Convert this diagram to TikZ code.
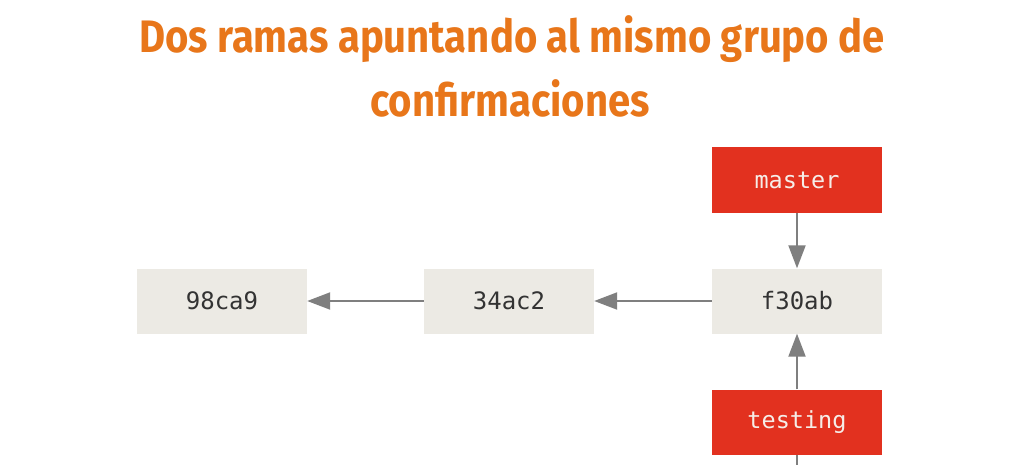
\documentclass[tikz,border=0pt]{standalone}
\usepackage{fontspec}
\setmonofont{DejaVu Sans Mono}
\newfontfamily\titlefont[FakeStretch=0.88]{Fira Sans Bold}
\usetikzlibrary{arrows.meta}
\definecolor{titleorange}{HTML}{E8761A}
\definecolor{commitfill}{HTML}{ECEAE4}
\definecolor{branchred}{HTML}{E2311F}
\definecolor{arrowgray}{HTML}{7F7F7F}
\definecolor{committext}{HTML}{333333}
\definecolor{branchtext}{HTML}{F6EDE8}
\tikzset{
  commitbox/.style={rectangle, fill=commitfill, minimum width=170pt, minimum height=65pt, inner sep=0pt,
    font=\ttfamily\fontsize{24}{24}\selectfont, text=committext},
  branchbox/.style={rectangle, fill=branchred, minimum width=170pt, minimum height=65pt, inner sep=0pt,
    font=\ttfamily\fontsize{23.5}{23.5}\selectfont, text=branchtext},
  link/.style={draw=arrowgray, line width=2pt, -{Triangle[length=23pt,width=17pt]}},
  titletext/.style={font=\titlefont\fontsize{45.5}{64}\selectfont, text=titleorange, align=center}
}
\begin{document}
\begin{tikzpicture}[x=1pt,y=-1pt]
\useasboundingbox[fill=white] (0,0) rectangle (1016,465);
\node[titletext, anchor=base] (title1) at (512,53) {Dos ramas apuntando al mismo grupo de};
\node[titletext, anchor=base] (title2) at (510,117) {confirmaciones};
\node[commitbox] (c1) at (222,301) {98ca9};
\node[commitbox] (c2) at (509,301) {34ac2};
\node[commitbox] (c3) at (797,301) {f30ab};
\node[branchbox] (master) at (797,180) {master};
\node[branchbox] (testing) at (797,422) {testing};
\coordinate (stub) at (797,465);
\draw[link] (c2) -- (c1);
\draw[link] (c3) -- (c2);
\draw[link] (master) -- (c3);
\draw[link] (testing) -- (c3);
\draw[draw=arrowgray, line width=2pt] (testing.south) -- (stub);
\end{tikzpicture}
\end{document}
